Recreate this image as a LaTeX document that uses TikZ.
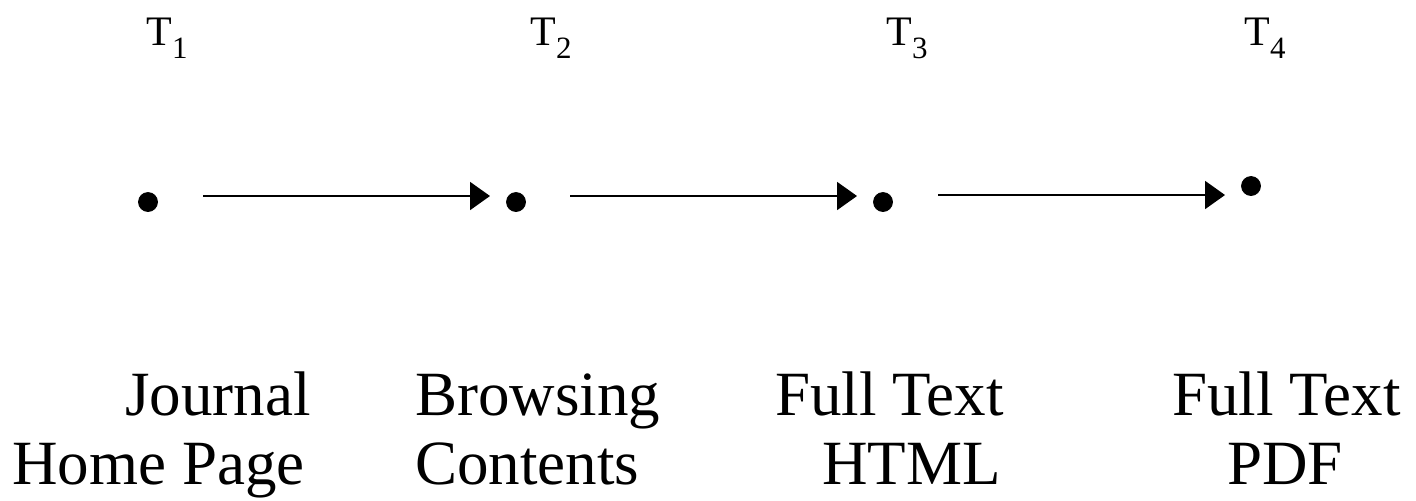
\documentclass[tikz,border=0pt]{standalone}
\usepackage{fontspec}
\setmainfont{Liberation Serif}
\usetikzlibrary{arrows.meta,positioning,calc}
\tikzset{
	pt/.style = {draw, fill=black, circle, inner sep=0pt, minimum size=9.5pt},
	tlabel/.style = {anchor=base west, inner sep=0pt, font=\fontsize{21}{22}\selectfont},
	page/.style = {anchor=base west, inner sep=0pt, font=\fontsize{31.5}{34}\selectfont},
	link/.style = {->, line width=1pt}
}
\newcommand{\tsub}[1]{T\raisebox{-6.5pt}{\fontsize{15.5}{16}\selectfont #1}}

\begin{document}
\begin{tikzpicture}[x=0.5pt, y=-0.5pt, >={Triangle[length=10pt, width=14pt]}]
	\useasboundingbox (0,0) rectangle (1416,500);
	% ========================== Nodes ============================
	% time labels
	\node [tlabel] (t1) at (146,45) {\tsub{1}};
	\node [tlabel] (t2) at (530,45) {\tsub{2}};
	\node [tlabel] (t3) at (886,45) {\tsub{3}};
	\node [tlabel] (t4) at (1244,45) {\tsub{4}};

	% pages visited
	\node [pt] (d1) at (148,202) {};
	\node [pt] (d2) at (516,202) {};
	\node [pt] (d3) at (883,202) {};
	\node [pt] (d4) at (1251,186) {};

	% page names
	\node [page] (p1a) at (125,415) {Journal};
	\node [page] (p1b) at (12,484) {Home Page};
	\node [page] (p2a) at (415,415) {Browsing};
	\node [page] (p2b) at (415,484) {Contents};
	\node [page] (p3a) at (775,415) {Full Text};
	\node [page] (p3b) at (822,484) {HTML};
	\node [page] (p4a) at (1172,415) {Full Text};
	\node [page] (p4b) at (1227,484) {PDF};

	% ========================== Lines ============================
	\draw [link] ($(d1)+(55,-6)$) -- ($(d2)+(-26,-6)$);
	\draw [link] ($(d2)+(54,-6)$) -- ($(d3)+(-26,-6)$);
	\draw [link] ($(d3)+(55,-7)$) -- ($(d4)+(-26,9)$);
\end{tikzpicture}
\end{document}
